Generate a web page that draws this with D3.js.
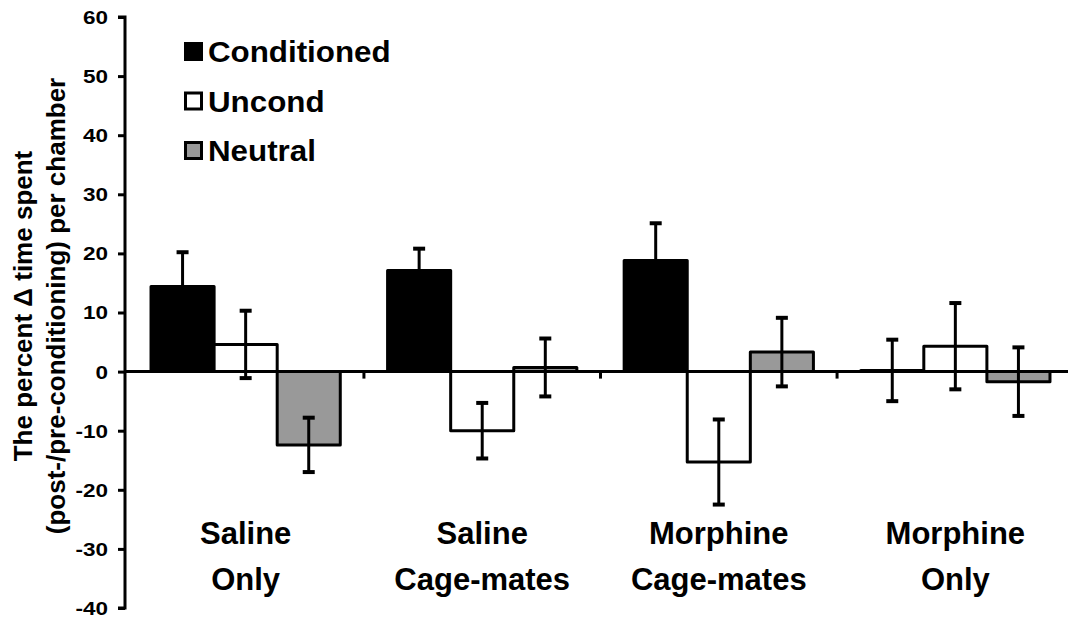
<!DOCTYPE html>
<html>
<head>
<meta charset="utf-8">
<script src="https://cdn.jsdelivr.net/npm/d3@7"></script>
<style>
  html, body { margin: 0; padding: 0; background: #fff; }
  svg { display: block; }
  text { font-family: "Liberation Sans", Arial, sans-serif; font-weight: bold; fill: #000; }
</style>
</head>
<body>
<svg id="chart" width="1068" height="622"></svg>
<script>
const categories = [["Saline", "Only"], ["Saline", "Cage-mates"], ["Morphine", "Cage-mates"], ["Morphine", "Only"]];
const seriesNames = ["Conditioned", "Uncond", "Neutral"];
const seriesColors = ["#000000", "#ffffff", "#999999"];
const conditioned = [14.4, 17.1, 18.8, 0.2];
const conditionedErr = [5.8, 3.7, 6.3, 5.2];
const uncond = [4.6, -10.0, -15.3, 4.3];
const uncondErr = [5.7, 4.7, 7.2, 7.3];
const neutral = [-12.4, 0.7, 3.3, -1.7];
const neutralErr = [4.6, 4.9, 5.8, 5.8];
const yTicks = [-40, -30, -20, -10, 0, 10, 20, 30, 40, 50, 60];
const yTitle = ["The percent \u0394 time spent", "(post-/pre-conditioning) per chamber"];

const values = [conditioned, uncond, neutral];
const errors = [conditionedErr, uncondErr, neutralErr];

const svg = d3.select("#chart");
const axisX = 125;

const y = d3.scaleLinear().domain([-40, 60]).range([608, 17]);
const catIdx = categories.map((d, i) => i);
const x = d3.scaleBand().domain(catIdx).range([axisX, 1076]).paddingInner(0.2).paddingOuter(0.11);
const xs = d3.scaleBand().domain([0, 1, 2]).range([0, x.bandwidth()]);

const data = [];
catIdx.forEach(ci => {
  values.forEach((vals, si) => {
    data.push({ ci, si, v: vals[ci], e: errors[si][ci] });
  });
});

// bars
svg.append("g").selectAll("rect").data(data).join("rect")
  .attr("x", d => x(d.ci) + xs(d.si))
  .attr("width", xs.bandwidth())
  .attr("y", d => y(Math.max(0, d.v)))
  .attr("height", d => Math.abs(y(d.v) - y(0)))
  .attr("fill", d => seriesColors[d.si])
  .attr("stroke", "#000")
  .attr("stroke-width", 3)
  .attr("stroke-linejoin", "round");

// zero line with category boundary ticks
const zeroY = y(0);
svg.append("line")
  .attr("x1", axisX).attr("x2", 1068)
  .attr("y1", zeroY).attr("y2", zeroY)
  .attr("stroke", "#000").attr("stroke-width", 3);
const boundaries = catIdx.slice(1).map(ci => (x(ci - 1) + x.bandwidth() + x(ci)) / 2);
svg.append("g").selectAll("line").data(boundaries).join("line")
  .attr("x1", d => d).attr("x2", d => d)
  .attr("y1", zeroY).attr("y2", zeroY + 7)
  .attr("stroke", "#000").attr("stroke-width", 3);

// error bars
const eg = svg.append("g").attr("stroke", "#000");
data.forEach(d => {
  const cx = x(d.ci) + xs(d.si) + xs.bandwidth() / 2;
  eg.append("line").attr("x1", cx).attr("x2", cx)
    .attr("y1", y(d.v + d.e)).attr("y2", y(d.v - d.e)).attr("stroke-width", 3);
  [d.v + d.e, d.v - d.e].forEach(val => {
    eg.append("line").attr("x1", cx - 6).attr("x2", cx + 6)
      .attr("y1", y(val)).attr("y2", y(val)).attr("stroke-width", 4);
  });
});

// y axis
const yAxis = d3.axisLeft(y).tickValues(yTicks).tickSize(7).tickFormat(() => "");
const ya = svg.append("g").attr("transform", `translate(${axisX},0)`).call(yAxis);
ya.select(".domain").attr("stroke", "#000").attr("stroke-width", 3).attr("d", `M-7,${y(60)}H0V${y(-40)}H-7`);
ya.selectAll(".tick line").attr("stroke", "#000").attr("stroke-width", 3);
ya.selectAll(".tick").append("text")
  .attr("text-anchor", "end")
  .attr("transform", "translate(-17,0) scale(1.25,1)")
  .attr("dy", "0.36em")
  .style("font-size", "18px")
  .text(d => String(d));

// y title
const yt = svg.append("text")
  .attr("transform", `translate(0,306) rotate(-90)`)
  .attr("text-anchor", "middle")
  .style("font-size", "26px");
yTitle.forEach((t, i) => {
  yt.append("tspan").attr("x", 0).attr("y", 32 + i * 33).text(t);
});

// category labels
categories.forEach((lines, ci) => {
  const cx = x(ci) + x.bandwidth() / 2;
  const t = svg.append("text").attr("text-anchor", "middle").style("font-size", "31px");
  lines.forEach((l, li) => {
    t.append("tspan").attr("x", cx).attr("y", 544 + li * 46).text(l);
  });
});

// legend
const lg = svg.append("g").attr("transform", "translate(184,42)");
seriesNames.forEach((name, i) => {
  const row = lg.append("g").attr("transform", `translate(0,${i * 49.5})`);
  row.append("rect").attr("x", 1.5).attr("y", 1.5).attr("width", 16).attr("height", 16)
    .attr("fill", seriesColors[i]).attr("stroke", "#000").attr("stroke-width", 3);
  row.append("text").attr("transform", "translate(24,20) scale(1.08,1)").style("font-size", "29px").text(name);
});
</script>
</body>
</html>
